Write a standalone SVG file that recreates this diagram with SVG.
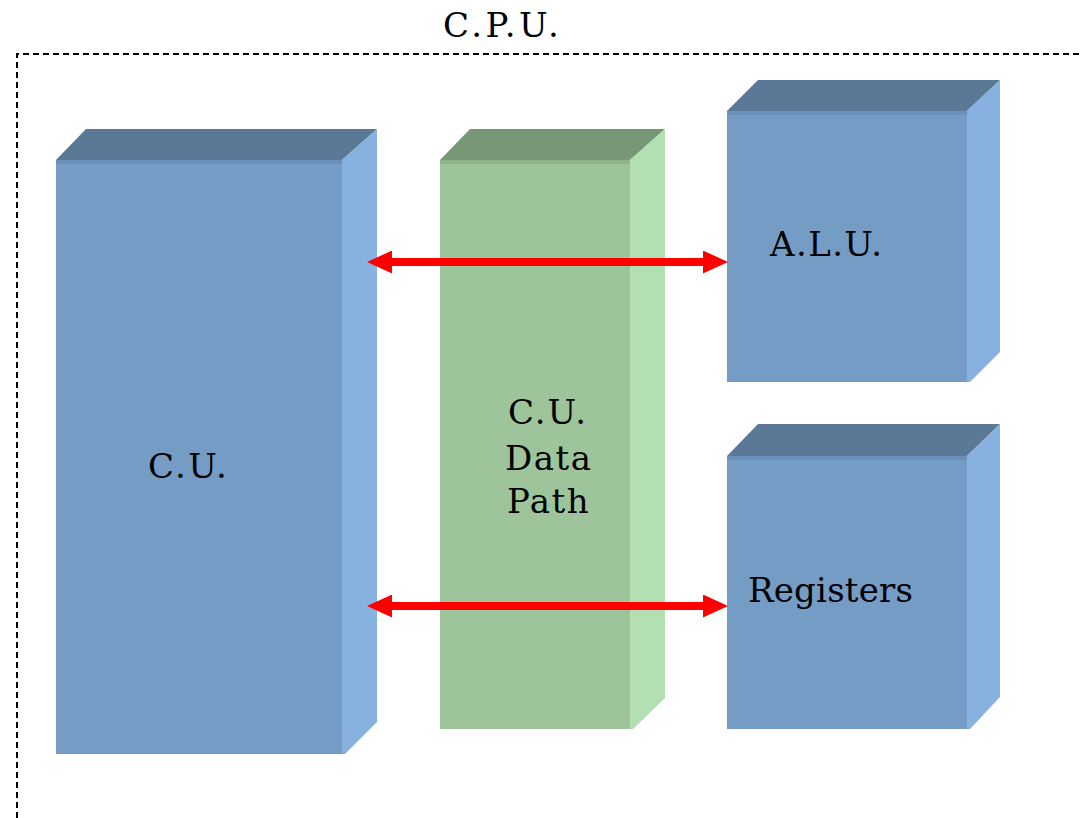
<svg xmlns="http://www.w3.org/2000/svg" width="1082" height="818" viewBox="0 0 1082 818">
  <style>
    .lbl { font-family: "DejaVu Serif", "Liberation Serif", serif; font-size: 34px; fill: #000; }
    .front-b { fill: #759CC4; }
    .top-b { fill: #5B7896; }
    .side-b { fill: #87B2E0; }
    .edge-b { fill: #6A8FBA; }
    .front-g { fill: #9EC49C; }
    .top-g { fill: #779776; }
    .side-g { fill: #B3E0B2; }
    .edge-g { fill: #8FB58D; }
    .link { stroke: #FF0000; stroke-width: 8; fill: none; }
  </style>
  <defs>
    <marker id="head" viewBox="0 0 25 23" refX="0" refY="11.5" markerWidth="25" markerHeight="23" markerUnits="userSpaceOnUse" orient="auto-start-reverse">
      <path d="M0,0 L25,11.5 L0,23 Z" fill="#FF0000"/>
    </marker>
  </defs>

  <rect width="1082" height="818" fill="#FFFFFF"/>

  <!-- CPU boundary -->
  <g id="cpu">
    <path d="M17,818 L17,54 L1082,54" fill="none" stroke="#000" stroke-width="2" stroke-dasharray="6,4"/>
    <text class="lbl" x="443" y="37" letter-spacing="3.4">C.P.U.</text>
  </g>

  <!-- Control unit block -->
  <g id="cu">
    <polygon class="top-b" points="56,160 86,129 377,129 342,160"/>
    <polygon class="side-b" points="342,160 377,129 377,722 345,754 342,754"/>
    <rect class="front-b" x="56" y="160" width="286" height="594"/>
    <rect class="edge-b" x="56" y="160" width="286" height="4"/>
    <text class="lbl" x="148" y="478" letter-spacing="2.3">C.U.</text>
  </g>

  <!-- Control unit data path block -->
  <g id="datapath">
    <polygon class="top-g" points="440,160 470,129 665,129 630,160"/>
    <polygon class="side-g" points="630,160 665,129 665,698 633,729 630,729"/>
    <rect class="front-g" x="440" y="160" width="190" height="569"/>
    <rect class="edge-g" x="440" y="160" width="190" height="4"/>
    <text class="lbl" x="508" y="424" letter-spacing="2">C.U.</text>
    <text class="lbl" x="505" y="470" letter-spacing="1.5">Data</text>
    <text class="lbl" x="507" y="513" letter-spacing="1.5">Path</text>
  </g>

  <!-- ALU block -->
  <g id="alu">
    <polygon class="top-b" points="727,111 758,80 1000,80 967,111"/>
    <polygon class="side-b" points="967,111 1000,80 1000,352 970,382 967,382"/>
    <rect class="front-b" x="727" y="111" width="240" height="271"/>
    <rect class="edge-b" x="727" y="111" width="240" height="4"/>
    <text class="lbl" x="770" y="256" letter-spacing="1.4">A.L.U.</text>
  </g>

  <!-- Register file block -->
  <g id="registers">
    <polygon class="top-b" points="727,456 758,424 1000,424 967,456"/>
    <polygon class="side-b" points="967,456 1000,424 1000,697 970,729 967,729"/>
    <rect class="front-b" x="727" y="456" width="240" height="273"/>
    <rect class="edge-b" x="727" y="456" width="240" height="4"/>
    <text class="lbl" x="748" y="602" letter-spacing="0.2">Registers</text>
  </g>

  <!-- Bidirectional links -->
  <g id="connectors">
    <line class="link" x1="392" y1="262" x2="703" y2="262" marker-start="url(#head)" marker-end="url(#head)"/>
    <line class="link" x1="392" y1="606" x2="703" y2="606" marker-start="url(#head)" marker-end="url(#head)"/>
  </g>
</svg>
